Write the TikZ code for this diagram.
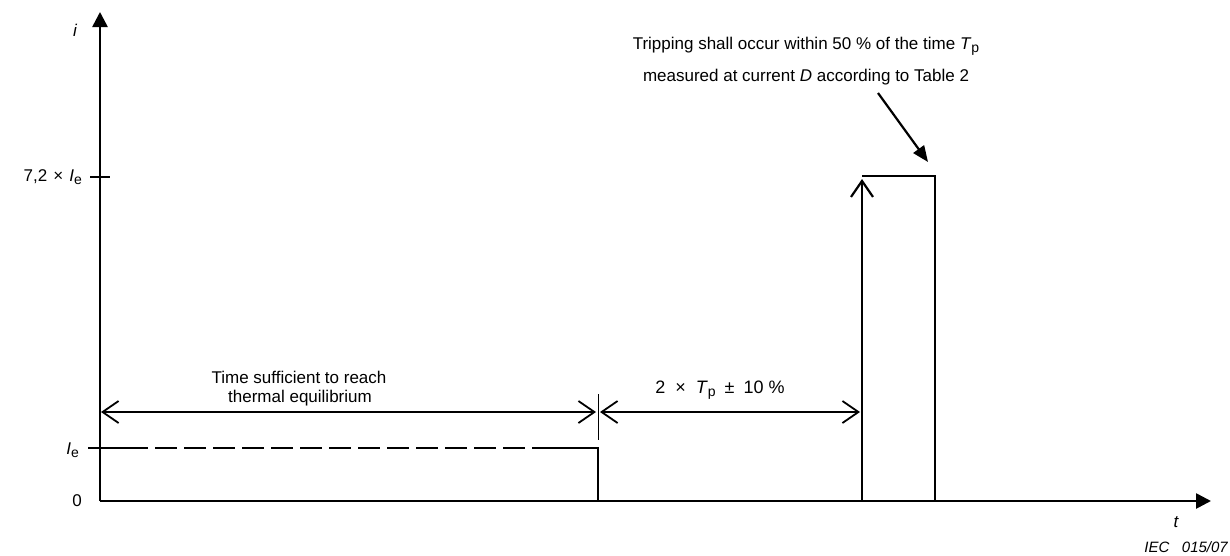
\documentclass[tikz,border=0pt]{standalone}
\usepackage{fontspec}
\setmainfont{Liberation Sans}
\usetikzlibrary{arrows.meta}
\newcommand{\lsub}[1]{\raisebox{-0.35ex}{\fontsize{14}{14}\selectfont #1}}
\tikzset{
  axisline/.style={line width=2.6pt, -{Triangle[length=15pt,width=15pt]}},
  waveline/.style={line width=2.6pt},
  dimline/.style={line width=1.8pt, {Straight Barb[length=16pt,width=22pt,line width=1.8pt]}-{Straight Barb[length=16pt,width=22pt,line width=1.8pt]}},
  upline/.style={line width=2.6pt, -{Straight Barb[length=16pt,width=22pt,line width=2.2pt]}},
  thinline/.style={line width=1pt},
  tickline/.style={line width=1.4pt},
  callout/.style={line width=2.2pt, -{Triangle[length=16pt,width=13pt]}},
  lbl/.style={inner sep=0pt, font=\fontsize{17}{20}\selectfont},
}
\begin{document}
\begin{tikzpicture}[x=1pt,y=-1pt]
\useasboundingbox (0,0) rectangle (1230,555);
% key points
\coordinate (O) at (100,501);
\coordinate (ytop) at (100,12);
\coordinate (xend) at (1211,501);
\coordinate (Ie) at (100,448);
\coordinate (dashA) at (148,448);
\coordinate (dashB) at (553,448);
\coordinate (stepTop) at (598,448);
\coordinate (stepBot) at (598,501);
\coordinate (pL) at (862,501);
\coordinate (pLarr) at (862,179);
\coordinate (pLtop) at (862,176);
\coordinate (pRtop) at (935,176);
\coordinate (pR) at (935,501);
\coordinate (tickL) at (90,177);
\coordinate (tickR) at (110,177);
\coordinate (ieTickL) at (88,448);
\coordinate (divTop) at (598,394);
\coordinate (divBot) at (598,440);
\coordinate (d1L) at (101,412);
\coordinate (d1R) at (596,412);
\coordinate (d2L) at (600,412);
\coordinate (d2R) at (860,412);
\coordinate (calloutStart) at (878,93);
\coordinate (calloutTip) at (928,162);

% axes
\draw[axisline] (O) -- (ytop);
\draw[axisline] (O) -- (xend);
% ticks
\draw[tickline] (tickL) -- (tickR);
\draw[tickline] (ieTickL) -- (Ie);
% waveform
\draw[waveline] (Ie) -- (dashA);
\draw[waveline, dash pattern=on 22pt off 7pt, dash phase=22pt] (dashA) -- (dashB);
\draw[waveline] (dashB) -- (stepTop) -- (stepBot);
\draw[upline] (pL) -- (pLarr);
\draw[waveline] (pLtop) -- (pRtop) -- (pR);
% dimension
\draw[thinline] (divTop) -- (divBot);
\draw[dimline] (d1L) -- (d1R);
\draw[dimline] (d2L) -- (d2R);

% labels
\node[lbl, font=\fontsize{17}{20}\selectfont\itshape] (ilbl) at (75,30) {i};
\node[lbl, anchor=east] (l72) at (82,177) {7,2\hspace{6pt}×\hspace{6pt}\textit{I}\lsub{e}};
\node[lbl, anchor=east] (lIe) at (79,450) {\textit{I}\lsub{e}};
\node[lbl] (l0) at (77,501) {0};
\node[lbl, font=\fontsize{17}{20}\selectfont\itshape] (tlbl) at (1176,522) {t};
\node[lbl, anchor=east, font=\fontsize{15}{17}\selectfont\itshape] (iec) at (1228,547) {IEC\ \ \ 015/07};
\node[lbl] (time1) at (299,377) {Time sufficient to reach};
\node[lbl] (time2) at (300,398) {thermal equilibrium};
\node[lbl, font=\fontsize{18}{20}\selectfont] (twotp) at (720,390) {2\hspace{10pt}×\hspace{10pt}\textit{T}\lsub{p}\hspace{9pt}±\hspace{9pt}10 \%};
\node[lbl] (trip1) at (806,46) {Tripping shall occur within 50 \% of the time \textit{T}\lsub{p}};
\node[lbl] (trip2) at (806,77) {measured at current \textit{D} according to Table 2};
\draw[callout] (calloutStart) -- (calloutTip);
\end{tikzpicture}
\end{document}
